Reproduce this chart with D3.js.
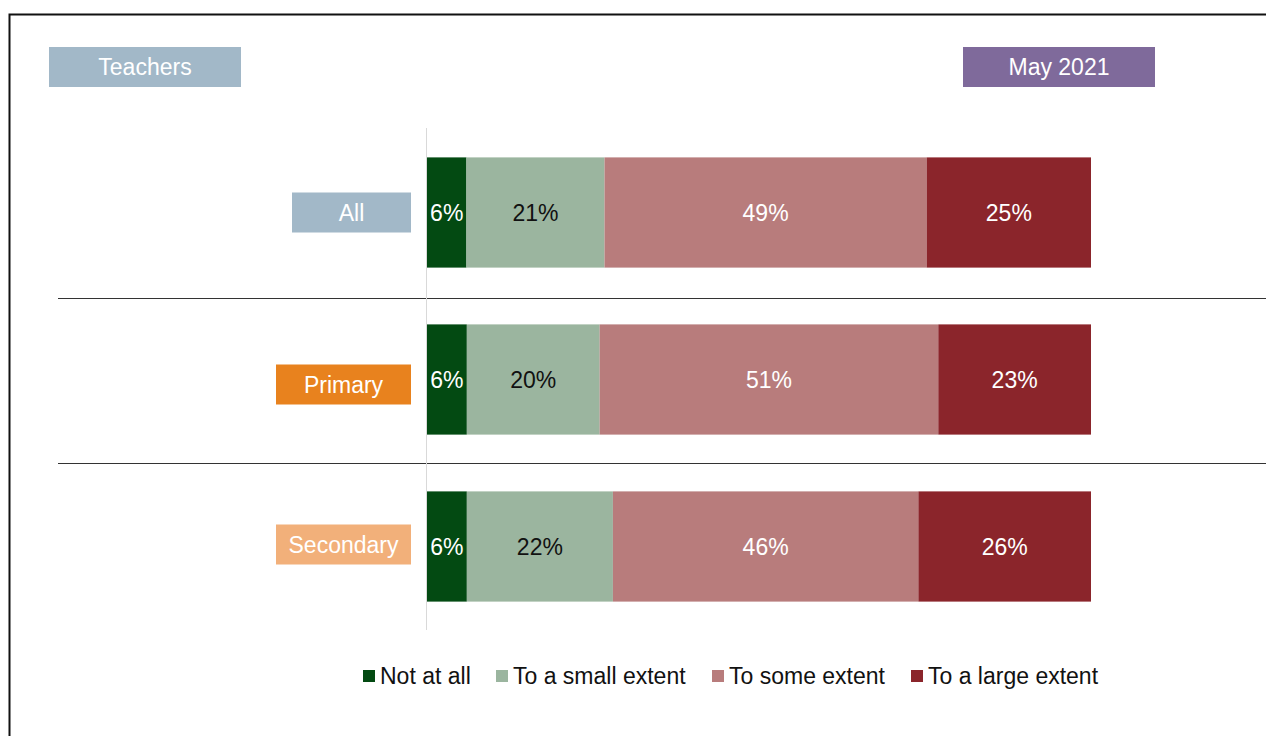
<!DOCTYPE html>
<html>
<head>
<meta charset="utf-8">
<script src="https://cdn.jsdelivr.net/npm/d3@7"></script>
<style>
  html, body { margin: 0; padding: 0; background: #fff; }
  svg { display: block; font-family: "Liberation Sans", Arial, sans-serif; }
</style>
</head>
<body>
<svg id="chart" width="1266" height="736"></svg>
<script>
// Survey responses, teachers, May 2021
const groups = ["All", "Primary", "Secondary"];
const responses = ["Not at all", "To a small extent", "To some extent", "To a large extent"];
const notAtAll = [6, 6, 6];
const smallExtent = [21, 20, 22];
const someExtent = [49, 51, 46];
const largeExtent = [25, 23, 26];

const groupColors = ["#a2b8c8", "#e8821e", "#f2b07a"];
const responseColors = ["#034a12", "#9bb59f", "#b87c7c", "#8b252b"];
const labelColors = ["#ffffff", "#111111", "#ffffff", "#ffffff"];

const FS = 23;
const svg = d3.select("#chart");
const W = 1266, H = 736;

// outer frame
svg.append("rect")
  .attr("x", 9.5).attr("y", 14.5)
  .attr("width", W + 20).attr("height", H + 20)
  .attr("fill", "none").attr("stroke", "#111").attr("stroke-width", 2);

// header tags
function tag(x, y, w, h, fill, text) {
  svg.append("rect").attr("x", x).attr("y", y).attr("width", w).attr("height", h).attr("fill", fill);
  svg.append("text").attr("x", x + w / 2).attr("y", y + h / 2)
    .attr("text-anchor", "middle").attr("dominant-baseline", "central")
    .attr("fill", "#fff").attr("font-size", FS).text(text);
}
tag(49, 47, 192, 40, "#a2b8c8", "Teachers");
tag(963, 47, 192, 40, "#7f6a9b", "May 2021");

// rows as table built from the arrays
const rows = groups.map((g, i) => {
  const vals = [notAtAll[i], smallExtent[i], someExtent[i], largeExtent[i]];
  const total = d3.sum(vals);
  let acc = 0;
  const segs = vals.map((v, j) => {
    const s = { group: g, key: responses[j], value: v, x0: acc / total, x1: (acc + v) / total, j };
    acc += v;
    return s;
  });
  return { group: g, i, segs };
});

const x = d3.scaleLinear().domain([0, 1]).range([427, 1091]);
const y = d3.scaleBand().domain(groups).range([129, 630]).paddingInner(0.34).paddingOuter(0.17);

// separators between groups
const bandStep = y.step();
const sepNudge = [2, 0];
groups.slice(1).forEach((g, k) => {
  const yy = Math.round(y(g) - (bandStep - y.bandwidth()) / 2) + sepNudge[k] + 0.5;
  svg.append("line").attr("x1", 58).attr("x2", W).attr("y1", yy).attr("y2", yy)
    .attr("stroke", "#333").attr("stroke-width", 1);
});

// bars
const rowG = svg.selectAll("g.row").data(rows).join("g").attr("class", "row");
rowG.selectAll("rect.seg").data(d => d.segs).join("rect")
  .attr("class", "seg")
  .attr("x", d => x(d.x0))
  .attr("width", d => x(d.x1) - x(d.x0))
  .attr("y", d => y(d.group))
  .attr("height", y.bandwidth())
  .attr("fill", d => responseColors[d.j]);

rowG.selectAll("text.val").data(d => d.segs).join("text")
  .attr("class", "val")
  .attr("x", d => (x(d.x0) + x(d.x1)) / 2)
  .attr("y", d => y(d.group) + y.bandwidth() / 2)
  .attr("text-anchor", "middle").attr("dominant-baseline", "central")
  .attr("font-size", FS)
  .attr("fill", d => labelColors[d.j])
  .text(d => d.value + "%");

// vertical baseline axis
svg.append("line").attr("x1", 426.5).attr("x2", 426.5).attr("y1", 128).attr("y2", 630)
  .attr("stroke", "#d9d9d9").attr("stroke-width", 1);

// group tags
const tagWidths = [119, 135, 135];
groups.forEach((g, i) => {
  const cy = y(g) + y.bandwidth() / 2 + [0, 5, -2][i];
  tag(411 - tagWidths[i], cy - 20, tagWidths[i], 40, groupColors[i], g);
});

// legend
const legendX = [363, 496, 712, 911];
const legend = svg.selectAll("g.legend").data(responses).join("g").attr("class", "legend")
  .attr("transform", (d, j) => `translate(${legendX[j]},676)`);
legend.append("rect").attr("x", 0).attr("y", -6).attr("width", 12).attr("height", 12)
  .attr("fill", (d, j) => responseColors[j]);
legend.append("text").attr("x", 17).attr("y", 0)
  .attr("dominant-baseline", "central").attr("font-size", FS).attr("fill", "#111")
  .text(d => d);
</script>
</body>
</html>
